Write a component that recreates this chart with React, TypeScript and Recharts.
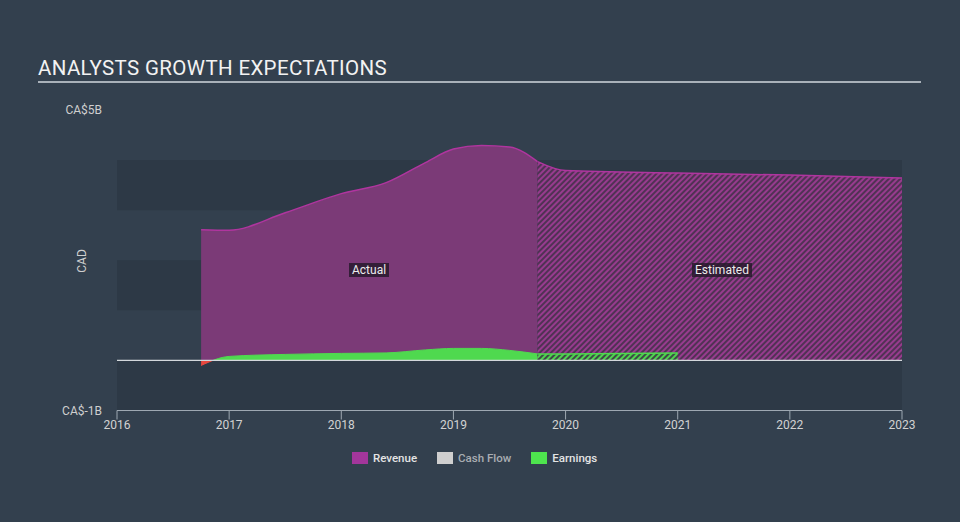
import React from "react";
import {
  ComposedChart,
  Area,
  XAxis,
  YAxis,
  ReferenceArea,
  ReferenceLine,
} from "recharts";

// time points (fractional years)
const years = [2016.75, 2017, 2017.5, 2018, 2018.4, 2018.75, 2019, 2019.25, 2019.5, 2019.75, 2020, 2021, 2022, 2023];

// CA$ billions
const revenueActual = [2.61, 2.6, 2.95, 3.33, 3.55, 3.95, 4.22, 4.29, 4.26, 3.97, null, null, null, null];
const revenueEstimate = [null, null, null, null, null, null, null, null, null, 3.97, 3.79, 3.74, 3.7, 3.64];
const earningsActual = [-0.1, 0.08, 0.12, 0.14, 0.15, 0.21, 0.24, 0.24, 0.2, 0.13, null, null, null, null];
const earningsEstimate = [null, null, null, null, null, null, null, null, null, 0.13, 0.13, 0.15, null, null];

const xTicks = [2016, 2017, 2018, 2019, 2020, 2021, 2022, 2023];
const yTicks = [-1, 5];
const bands = [[3, 4], [1, 2], [-1, 0]];

const legendItems = [
  { name: "Revenue", color: "#a3369b", text: "#e4e4e4" },
  { name: "Cash Flow", color: "#cfcfcf", text: "#a9adb2" },
  { name: "Earnings", color: "#4ee44e", text: "#e4e4e4" },
];

const data = years.map((x, i) => ({
  x,
  revA: revenueActual[i],
  revE: revenueEstimate[i],
  earnA: earningsActual[i],
  earnE: earningsEstimate[i],
}));

const BG = "#33404e";
const font = "Roboto, 'Noto Sans', sans-serif";

export default function App() {
  return (
    <div
      style={{
        position: "absolute",
        left: 0,
        top: 0,
        width: 960,
        height: 522,
        background: BG,
        fontFamily: font,
        overflow: "hidden",
      }}
    >
      <div
        style={{
          position: "absolute",
          left: 38,
          top: 56,
          fontSize: 20.5,
          letterSpacing: 0.35,
          lineHeight: "24px",
          color: "#f2f2f2",
        }}
      >
        ANALYSTS GROWTH EXPECTATIONS
      </div>
      <div
        style={{
          position: "absolute",
          left: 38,
          top: 81,
          width: 883,
          height: 1.5,
          background: "#a9b1b9",
        }}
      />

      <ComposedChart
        width={960}
        height={522}
        data={data}
        margin={{ top: 110, right: 58, left: 37, bottom: 81.5 }}
      >
        <defs>
          <linearGradient id="earnGrad" gradientUnits="userSpaceOnUse" x1="0" y1="0" x2="0" y2="522">
            <stop offset="0.6905" stopColor="#4fd94f" />
            <stop offset="0.6905" stopColor="#e8483f" />
          </linearGradient>
          <pattern id="hatchRev" width="4" height="4" patternUnits="userSpaceOnUse" patternTransform="rotate(45)">
            <rect width="4" height="4" fill="#503254" />
            <rect width="2" height="4" fill="#973b8e" />
          </pattern>
          <pattern id="hatchEarn" width="4" height="4" patternUnits="userSpaceOnUse" patternTransform="rotate(45)">
            <rect width="4" height="4" fill="#3d4a45" />
            <rect width="2" height="4" fill="#4fd34f" />
          </pattern>
        </defs>

        {bands.map(([a, b]) => (
          <ReferenceArea
            key={a}
            x1={2016}
            x2={2023}
            y1={a}
            y2={b}
            fill="#2d3946"
            fillOpacity={1}
            stroke="none"
          />
        ))}

        <XAxis
          dataKey="x"
          type="number"
          domain={[2016, 2023]}
          ticks={xTicks}
          interval={0}
          height={30}
          tickSize={9}
          tickMargin={1}
          stroke="#9ea8b2"
          tick={{ fill: "#d2d2d2", fontSize: 12 }}
        />
        <YAxis
          type="number"
          domain={[-1, 5]}
          ticks={yTicks}
          interval={0}
          width={80}
          tickLine={false}
          axisLine={false}
          tickSize={8}
          tickMargin={7}
          tick={{ fill: "#cfcfcf", fontSize: 12 }}
          tickFormatter={(v: number) => `CA$${v}B`}
        />

        <Area
          dataKey="revA"
          type="monotone"
          baseValue={0}
          fill="#7b3a77"
          fillOpacity={1}
          stroke="#b0359f"
          strokeWidth={1.5}
          dot={false}
          activeDot={false}
          isAnimationActive={false}
        />
        <Area
          dataKey="revE"
          type="monotone"
          baseValue={0}
          fill="url(#hatchRev)"
          fillOpacity={1}
          stroke="#b0359f"
          strokeWidth={1.5}
          dot={false}
          activeDot={false}
          isAnimationActive={false}
        />
        <Area
          dataKey="earnA"
          type="monotone"
          baseValue={0}
          fill="url(#earnGrad)"
          fillOpacity={1}
          stroke="url(#earnGrad)"
          strokeWidth={1}
          dot={false}
          activeDot={false}
          isAnimationActive={false}
        />
        <Area
          dataKey="earnE"
          type="monotone"
          baseValue={0}
          fill="url(#hatchEarn)"
          fillOpacity={1}
          stroke="#4fd94f"
          strokeWidth={1.5}
          dot={false}
          activeDot={false}
          isAnimationActive={false}
        />
        <ReferenceLine y={0} stroke="#d3d7db" strokeWidth={1.2} />
      </ComposedChart>

      {/* y axis title */}
      <div
        style={{
          position: "absolute",
          left: 82,
          top: 261,
          transform: "translate(-50%, -50%) rotate(-90deg)",
          fontSize: 12,
          lineHeight: "14px",
          color: "#cfcfcf",
        }}
      >
        CAD
      </div>

      {[
        { text: "Actual", left: 349 },
        { text: "Estimated", left: 692 },
      ].map((l) => (
        <div
          key={l.text}
          style={{
            position: "absolute",
            left: l.left,
            top: 263,
            padding: "0 3px",
            height: 14,
            lineHeight: "14px",
            fontSize: 12,
            color: "#ececec",
            background: "rgba(35,24,40,0.8)",
          }}
        >
          {l.text}
        </div>
      ))}

      <div
        style={{
          position: "absolute",
          left: 352,
          top: 451,
          display: "flex",
          alignItems: "center",
          fontSize: 11.5,
          fontWeight: 500,
        }}
      >
        {legendItems.map((it) => (
          <div key={it.name} style={{ display: "flex", alignItems: "center", marginRight: 20 }}>
            <div style={{ width: 16, height: 12, background: it.color, marginRight: 5 }} />
            <span style={{ color: it.text }}>{it.name}</span>
          </div>
        ))}
      </div>
    </div>
  );
}
